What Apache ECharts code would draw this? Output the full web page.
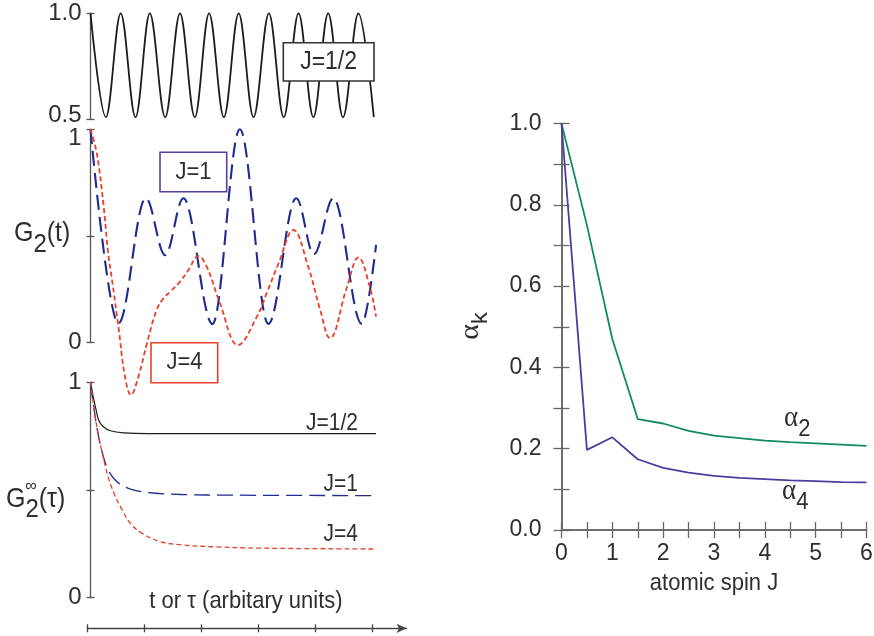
<!DOCTYPE html>
<html>
<head>
<meta charset="utf-8">
<script src="https://cdn.jsdelivr.net/npm/echarts@6/dist/echarts.min.js"></script>
<style>
  html, body { margin: 0; padding: 0; background: #fff; }
  #chart { width: 874px; height: 636px; }
</style>
</head>
<body>
<div id="chart"></div>
<script>
// ---- G2(t), J = 1/2: successive maxima / minima of the oscillation ----
const halfT = [0, 0.27, 0.53, 0.79, 1.04, 1.31, 1.57, 1.83, 2.08, 2.34,
               2.60, 2.86, 3.13, 3.39, 3.65, 3.91, 4.17, 4.43, 4.70, 4.97];
const halfG = [1.0, 0.51, 1.0, 0.51, 1.0, 0.51, 1.0, 0.51, 1.0, 0.51,
               1.0, 0.51, 1.0, 0.51, 1.0, 0.51, 1.0, 0.51, 1.0, 0.51];

// ---- G2(t), J = 1: maxima / minima, last point is where the trace stops ----
const oneT = [0, 0.49, 0.97, 1.31, 1.63, 2.14, 2.62, 3.12, 3.61, 3.92, 4.26, 4.76, 5.01];
const oneG = [1.0, 0.09, 0.677, 0.41, 0.677, 0.088, 1.0, 0.088, 0.677, 0.414, 0.677, 0.088, 0.458];

// ---- G2(t), J = 4 ----
const fourT = [0, 0.11, 0.225, 0.31, 0.37, 0.49, 0.605, 0.71, 0.84, 0.99,
               1.16, 1.28, 1.40, 1.57, 1.72, 1.89, 2.04, 2.27, 2.59, 2.92,
               3.09, 3.30, 3.56, 3.82, 4.03, 4.20, 4.50, 4.70, 4.90, 5.01];
const fourG = [1.0, 0.888, 0.653, 0.419, 0.309, 0.075, -0.159, -0.245, -0.159, -0.003,
               0.153, 0.208, 0.239, 0.286, 0.341, 0.406, 0.356, 0.186, -0.011, 0.122,
               0.231, 0.372, 0.528, 0.356, 0.153, 0.021, 0.262, 0.40, 0.262, 0.122];

// ---- G2 infinity (tau) ----
const halfTauT = [0, 0.05, 0.10, 0.15, 0.22, 0.35, 0.60, 1.0, 5.01];
const halfTauG = [1.0, 0.93, 0.87, 0.82, 0.795, 0.775, 0.765, 0.762, 0.762];
const oneTauT = [0, 0.10, 0.20, 0.30, 0.42, 0.60, 0.80, 1.10, 1.60, 2.50, 5.01];
const oneTauG = [1.0, 0.81, 0.68, 0.60, 0.55, 0.515, 0.497, 0.486, 0.479, 0.476, 0.474];
const fourTauT = [0, 0.10, 0.20, 0.30, 0.42, 0.55, 0.70, 0.90, 1.20, 1.60, 2.20, 3.00, 5.01];
const fourTauG = [1.0, 0.81, 0.68, 0.57, 0.48, 0.41, 0.345, 0.30, 0.262, 0.245, 0.236, 0.23, 0.226];

// ---- alpha_k versus atomic spin J ----
const spinJ  = [0, 0.5, 1, 1.5, 2, 2.5, 3, 3.5, 4, 4.5, 5, 5.5, 6];
const alpha2 = [1.0, 0.75, 0.47, 0.273, 0.262, 0.244, 0.232, 0.226, 0.22, 0.216, 0.213, 0.21, 0.207];
const alpha4 = [1.0, 0.197, 0.228, 0.174, 0.153, 0.141, 0.133, 0.128, 0.125, 0.122, 0.12, 0.118, 0.117];

// ---- tick values of the shared time axis ----
const timeTicks = [0, 1, 2, 3, 4, 5];

const FONT = "'Liberation Sans', Arial, Helvetica, sans-serif";
const SERIF = "'Liberation Serif', 'Times New Roman', serif";
const INK = '#2e2e2e';
const AXIS = '#555';
const BLUE = '#1f2b8e';
const RED = '#e8402a';
const GREEN = '#138a62';
const PURPLE = '#4b3d9e';
const XMAX = 5.1;       // time range of the three stacked panels
const PX = 57;          // pixels per time unit
const PANEL_LEFT = 90.5;
const STRETCH = 1.1;    // slightly tall lettering

const pairs = (xs, ys) => xs.map((x, i) => [x, ys[i]]);

// tick label rich styles: nudge the crowded labels between panels apart
const tickRich = {
  n:  { fontSize: 24, fontFamily: FONT, color: INK },
  up: { fontSize: 24, fontFamily: FONT, color: INK, padding: [0, 0, 8, 0] },
  dn: { fontSize: 24, fontFamily: FONT, color: INK, padding: [18, 0, 0, 0] }
};

// two coincident y axes per panel: one with outward ticks + labels, one with inward ticks
function panelAxes(gridIndex, min, max, interval, fmt) {
  const common = { type: 'value', gridIndex, position: 'left', min, max, interval,
                   splitLine: { show: false } };
  return [
    Object.assign({}, common, {
      axisLine: { show: true, lineStyle: { color: AXIS, width: 1.3 } },
      axisTick: { show: true, inside: false, length: 4, lineStyle: { color: AXIS, width: 1.3 } },
      axisLabel: { show: true, formatter: fmt, color: INK, fontSize: 24, fontFamily: FONT,
                   margin: 9, rich: tickRich }
    }),
    Object.assign({}, common, {
      axisLine: { show: false },
      axisTick: { show: true, inside: true, length: 4, lineStyle: { color: AXIS, width: 1.3 } },
      axisLabel: { show: false }
    })
  ];
}

const hiddenX = (gridIndex) => ({ type: 'value', gridIndex, min: 0, max: XMAX, show: false });
const topPanelFmt = v => (v === 0.5 ? '{up|0.5}' : '{n|' + v.toFixed(1) + '}');
const midPanelFmt = v => (v === 0.5 ? '' : v === 1 ? '{dn|1}' : '{n|' + v + '}');
const lowPanelFmt = v => (v === 0.5 ? '' : '{n|' + v + '}');

function rightAxis(kind, position, labels) {
  const base = {
    type: 'value', gridIndex: 4, position,
    axisLine: { show: true, lineStyle: { color: '#666', width: 1.5 } },
    axisTick: { show: true, inside: true, length: 8, lineStyle: { color: '#666', width: 1.3 } },
    minorTick: { show: true, splitNumber: 2, length: 8, lineStyle: { color: '#666', width: 1.3 } },
    splitLine: { show: false },
    minorSplitLine: { show: false },
    axisLabel: labels
      ? { show: true, color: INK, fontSize: 23, fontFamily: FONT,
          margin: kind === 'x' ? 12 : 20,
          formatter: kind === 'x' ? (v => String(v)) : (v => v.toFixed(1)) }
      : { show: false }
  };
  if (kind === 'x') Object.assign(base, { min: 0, max: 6, interval: 1 });
  else Object.assign(base, { min: 0, max: 1, interval: 0.2 });
  return base;
}

const textStyle = (text, size, align) => ({
  text, fill: INK, font: `${size}px ${FONT}`,
  align, textAlign: align, verticalAlign: 'middle', textVerticalAlign: 'middle'
});

function label(x, y, text, size, align) {
  return { type: 'text', x, y, z: 101, scaleY: STRETCH,
           style: textStyle(text, size, align || 'center') };
}
function box(x, y, w, h, color) {
  return { type: 'rect', z: 100, shape: { x, y, width: w, height: h },
           style: { fill: '#fff', stroke: color, lineWidth: 1.6 } };
}
function richLabel(x, y, text, rich, align, rotation) {
  return {
    type: 'text', x, y, z: 101, rotation: rotation || 0,
    scaleY: rotation ? 1 : STRETCH, scaleX: rotation ? STRETCH : 1,
    style: { text, rich, align, textAlign: align,
             verticalAlign: 'middle', textVerticalAlign: 'middle' }
  };
}
const alphaRich = {
  a: { fontFamily: SERIF, fontSize: 27, fill: INK, color: INK },
  s: { fontFamily: FONT, fontSize: 22, fill: INK, color: INK, padding: [20, 0, 0, 0] }
};
const gRich = (drop) => ({
  g: { fontFamily: FONT, fontSize: 25, fill: INK, color: INK },
  s: { fontFamily: FONT, fontSize: 24, fill: INK, color: INK, padding: [drop, 0, 0, 0] }
});

const chart = echarts.init(document.getElementById('chart'), null, { renderer: 'canvas' });

chart.setOption({
  animation: false,
  backgroundColor: '#fff',
  grid: [
    { left: PANEL_LEFT, top: 13.3,  width: PX * XMAX, height: 106,   outerBoundsMode: 'none' },
    { left: PANEL_LEFT, top: 129.3, width: PX * XMAX, height: 213.4, outerBoundsMode: 'none' },
    { left: PANEL_LEFT, top: 382.3, width: PX * XMAX, height: 215.4, outerBoundsMode: 'none' },
    { left: 87.3, top: 620, width: PX * 5.6, height: 8.3, outerBoundsMode: 'none' },
    { left: 561.5, top: 123.5, width: 305, height: 406.5, outerBoundsMode: 'none' }
  ],
  xAxis: [
    hiddenX(0), hiddenX(1), hiddenX(2),
    { type: 'value', gridIndex: 3, position: 'bottom', min: 0, max: 5.6, interval: 1,
      axisLine: { show: true, symbol: ['none', 'arrow'], symbolSize: [7, 10],
                  lineStyle: { color: '#444', width: 1.3 } },
      axisTick: { show: true, inside: false, length: 4, customValues: timeTicks,
                  lineStyle: { color: '#444', width: 1.3 } },
      axisLabel: { show: false }, splitLine: { show: false } },
    { type: 'value', gridIndex: 3, position: 'bottom', min: 0, max: 5.6, interval: 1,
      axisLine: { show: false },
      axisTick: { show: true, inside: true, length: 4, customValues: timeTicks,
                  lineStyle: { color: '#444', width: 1.3 } },
      axisLabel: { show: false }, splitLine: { show: false } },
    rightAxis('x', 'bottom', true),
    rightAxis('x', 'top', false)
  ],
  yAxis: [
    ...panelAxes(0, 0.5, 1, 0.5, topPanelFmt),
    ...panelAxes(1, 0, 1, 0.5, midPanelFmt),
    ...panelAxes(2, 0, 1, 0.5, lowPanelFmt),
    { type: 'value', gridIndex: 3, min: 0, max: 1, show: false },
    rightAxis('y', 'left', true),
    rightAxis('y', 'right', false)
  ],
  series: [
    { name: 'G2 J=1/2', type: 'line', xAxisIndex: 0, yAxisIndex: 0, data: pairs(halfT, halfG),
      showSymbol: false, smooth: 0.36, smoothMonotone: 'x', clip: false, silent: true,
      lineStyle: { color: '#1c1c1c', width: 1.8 } },
    { name: 'G2 J=1', type: 'line', xAxisIndex: 1, yAxisIndex: 2, data: pairs(oneT, oneG),
      showSymbol: false, smooth: 0.36, smoothMonotone: 'x', clip: false, silent: true,
      lineStyle: { color: BLUE, width: 2.1, type: [15, 7] } },
    { name: 'G2 J=4', type: 'line', xAxisIndex: 1, yAxisIndex: 2, data: pairs(fourT, fourG),
      showSymbol: false, smooth: 0.4, clip: false, silent: true,
      lineStyle: { color: RED, width: 1.8, type: [5, 3] } },
    { name: 'G2inf J=1/2', type: 'line', xAxisIndex: 2, yAxisIndex: 4, data: pairs(halfTauT, halfTauG),
      showSymbol: false, smooth: 0.4, clip: false, silent: true,
      lineStyle: { color: '#1c1c1c', width: 1.2 } },
    { name: 'G2inf J=1', type: 'line', xAxisIndex: 2, yAxisIndex: 4, data: pairs(oneTauT, oneTauG),
      showSymbol: false, smooth: 0.4, clip: false, silent: true,
      lineStyle: { color: BLUE, width: 1.3, type: [16, 7] } },
    { name: 'G2inf J=4', type: 'line', xAxisIndex: 2, yAxisIndex: 4, data: pairs(fourTauT, fourTauG),
      showSymbol: false, smooth: 0.4, clip: false, silent: true,
      lineStyle: { color: RED, width: 1.3, type: [5, 3] } },
    { name: 'alpha2', type: 'line', xAxisIndex: 5, yAxisIndex: 7, data: pairs(spinJ, alpha2),
      showSymbol: false, silent: true, lineStyle: { color: GREEN, width: 1.8 } },
    { name: 'alpha4', type: 'line', xAxisIndex: 5, yAxisIndex: 7, data: pairs(spinJ, alpha4),
      showSymbol: false, silent: true, lineStyle: { color: PURPLE, width: 1.8 } }
  ],
  graphic: [
    // boxed spin labels in the upper panels
    box(283.3, 42.7, 90.7, 38.3, '#333'),
    label(328.6, 62, 'J=1/2', 23),
    box(160, 152.3, 66.7, 39.4, '#5a3d9e'),
    label(193.5, 172, 'J=1', 22),
    box(151, 342.7, 66.7, 40, RED),
    label(184.5, 362.5, 'J=4', 22),
    // curve labels in the lower panel
    label(358, 424, 'J=1/2', 21, 'right'),
    label(358, 485, 'J=1', 21, 'right'),
    label(358, 535, 'J=4', 21, 'right'),
    // panel axis names
    richLabel(14, 233, '{g|G}{s|2}{g|(t)}', gRich(22), 'left'),
    richLabel(6, 499, '{g|G}{s|2}{g|(τ)}', gRich(20), 'left'),
    label(31, 486, '∞', 16),
    label(246, 601, 't or τ (arbitary units)', 22),
    // right chart annotations
    label(714, 583, 'atomic spin J', 22),
    richLabel(471, 326, '{a|α}{s|k}', alphaRich, 'center', Math.PI / 2),
    richLabel(784, 418.5, '{a|α}{s|2}', alphaRich, 'left'),
    richLabel(782, 491, '{a|α}{s|4}', alphaRich, 'left')
  ]
});
</script>
</body>
</html>
